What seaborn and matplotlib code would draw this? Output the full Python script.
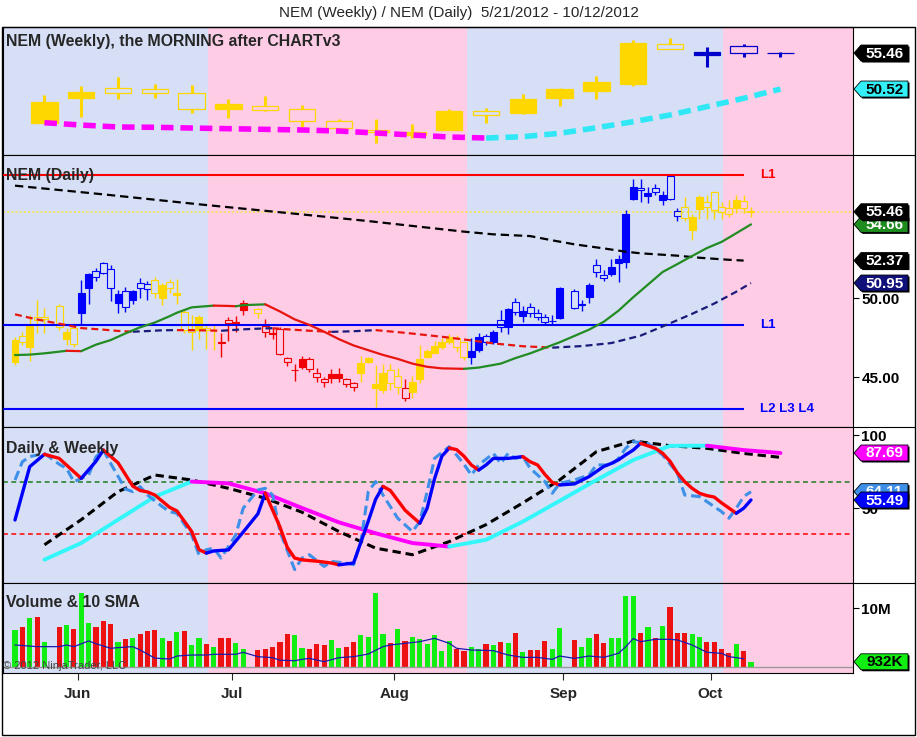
import numpy as np
import pandas as pd
import matplotlib
matplotlib.use("Agg")
import matplotlib.pyplot as plt
from matplotlib.patches import Polygon, Rectangle
import seaborn as sns

# NEM weekly / daily chart, rebuilt from a NinjaTrader screenshot.
# x axis = weekday number counted from 5/21/2012 (holidays stay as empty slots)
START = "2012-05-21"
HOLIDAYS = ["2012-05-28", "2012-07-04", "2012-09-03"]

# ---- weekly bars, stamped on Fridays 5/25 .. 10/12 ----
week_open = [45.90, 49.33, 50.71, 50.48, 49.93, 47.82, 48.19, 47.78, 46.18, 44.90, 44.21,
             44.90, 47.50, 47.19, 49.33, 50.29, 51.21, 56.74, 55.19, 56.42, 55.50]
week_high = [49.70, 50.93, 52.12, 51.21, 51.07, 49.15, 49.61, 48.28, 46.36, 46.36, 45.72,
             47.73, 47.87, 49.79, 50.61, 52.30, 57.24, 57.56, 56.33, 56.65, 55.64]
week_low = [45.90, 46.64, 49.10, 49.24, 47.27, 46.50, 47.55, 45.26, 45.10, 43.16, 43.76,
            44.90, 45.90, 47.09, 48.24, 49.10, 50.98, 55.96, 53.59, 54.96, 54.96]
week_close = [48.78, 50.16, 50.02, 50.02, 47.73, 48.46, 47.64, 46.18, 45.13, 44.67, 44.67,
              47.50, 46.96, 49.15, 50.52, 51.44, 56.88, 55.96, 55.64, 55.51, 55.46]
week_color = "YYYYYYYYYYYYYYYYYYBBB"
week_ma = [45.90, 45.58, 45.31, 45.27, 45.17, 45.08, 44.99, 44.90, 44.76, 44.49, 44.21,
           43.94, 43.80, 43.98, 44.45, 45.21, 46.04, 46.96, 48.10, 49.25, 50.52]
# weekly stochastic (solid) and its signal (black dashed)
week_stoch = [14.6, 26.0, 42.0, 57.8, 68.1, 66.9, 60.1, 50.0, 40.2, 32.7, 26.0,
              23.6, 28.2, 40.7, 54.9, 69.2, 82.9, 92.6, 92.7, 89.7, 87.69]
week_signal = [24.8, 42.0, 61.2, 72.6, 69.2, 63.5, 56.7, 47.1, 33.9, 22.5, 18.0,
               27.0, 38.6, 53.5, 69.2, 88.6, 95.9, 92.7, 90.9, 87.4, 84.7]

# ---- daily bars 5/21 .. 10/8 ----
day_open = [45.97, 47.59, 46.88, 48.82, 48.82, 49.49, 47.39, 48.08, 49.03, 50.61,
            51.69, 52.24, 51.81, 49.70, 50.46, 49.87, 50.93, 50.86, 51.14, 49.98,
            50.99, 50.17, 49.13, 47.97, 47.97, 48.10, 48.00, 47.20, 48.61, 48.35,
            49.24, 49.30, 48.23, 47.78, 48.02, 46.22, 45.46, 45.65, 46.12, 45.23,
            44.87, 44.92, 44.92, 44.85, 44.60, 45.23, 45.97, 44.28, 44.18, 45.44,
            45.06, 44.32, 44.07, 44.85, 46.28, 46.54, 46.92, 47.23, 47.45, 47.23,
            46.25, 46.71, 47.61, 47.23, 48.59, 48.18, 49.77, 48.88, 49.41, 49.03,
            48.78, 48.56, 48.75, 50.46, 49.62, 50.08, 52.09, 51.46, 51.52, 52.24,
            52.30, 56.24, 56.94, 56.48, 56.94, 56.20, 57.70, 55.51, 55.78, 54.30,
            55.63, 56.10, 56.69, 55.78, 55.68, 55.68, 56.14, 55.50]
day_high = [47.53, 47.87, 48.90, 49.87, 49.37, 49.60, 48.10, 48.40, 51.14, 51.60,
            51.90, 52.30, 52.10, 50.50, 50.70, 50.50, 51.25, 51.05, 51.35, 50.95,
            51.20, 51.20, 49.25, 48.90, 48.92, 48.30, 48.30, 47.80, 48.80, 48.86,
            49.87, 49.35, 48.65, 48.10, 48.15, 46.30, 45.82, 46.35, 46.30, 45.60,
            45.00, 45.50, 45.60, 44.97, 44.70, 46.35, 46.30, 45.76, 45.80, 45.80,
            45.60, 44.90, 45.05, 47.00, 46.80, 47.30, 47.50, 47.70, 47.65, 47.30,
            47.50, 47.80, 47.70, 48.00, 49.24, 49.40, 50.00, 49.50, 49.70, 49.30,
            49.00, 48.90, 50.70, 50.55, 49.85, 50.95, 52.50, 51.80, 52.50, 52.70,
            55.60, 57.50, 57.50, 57.00, 57.20, 56.80, 57.80, 55.70, 56.40, 55.30,
            56.55, 56.50, 56.75, 56.10, 56.20, 56.50, 56.50, 55.75]
day_low = [45.76, 47.00, 46.00, 47.80, 47.78, 48.00, 47.00, 46.90, 48.30, 49.60,
           51.10, 51.50, 49.80, 49.07, 49.10, 49.60, 50.00, 49.90, 50.00, 49.55,
           50.30, 49.60, 47.80, 46.70, 47.40, 46.80, 46.70, 46.30, 47.30, 47.87,
           48.92, 48.75, 47.55, 47.40, 46.40, 45.70, 44.77, 45.50, 45.30, 44.70,
           44.40, 44.60, 44.70, 44.40, 44.10, 44.70, 45.90, 43.12, 44.00, 44.20,
           43.90, 43.50, 43.70, 44.60, 46.20, 46.50, 46.80, 47.10, 46.60, 46.10,
           45.80, 46.60, 47.00, 47.10, 47.87, 47.70, 48.90, 48.50, 48.80, 48.60,
           48.30, 48.30, 48.70, 49.30, 49.20, 49.70, 51.30, 51.10, 51.40, 51.00,
           51.90, 56.20, 56.10, 56.00, 56.50, 55.90, 56.20, 54.90, 54.90, 53.70,
           55.00, 55.00, 55.00, 55.00, 55.10, 55.40, 55.40, 55.10]
day_close = [47.34, 47.23, 48.23, 48.61, 48.69, 48.18, 47.87, 47.09, 50.30, 51.52,
             51.31, 51.60, 50.61, 50.25, 49.45, 50.46, 50.65, 50.59, 50.30, 50.82,
             50.61, 50.34, 47.97, 47.87, 48.82, 48.00, 47.95, 47.15, 48.40, 48.46,
             49.66, 49.03, 47.87, 47.74, 46.46, 45.97, 45.42, 46.12, 45.49, 45.02,
             44.66, 45.17, 45.17, 44.54, 44.35, 45.87, 46.18, 44.54, 45.23, 44.60,
             44.39, 43.65, 44.70, 46.12, 46.65, 46.96, 47.23, 47.51, 46.88, 46.28,
             46.62, 47.55, 47.23, 47.87, 48.18, 49.28, 49.13, 49.18, 49.03, 48.82,
             48.46, 48.52, 50.61, 49.39, 49.58, 50.82, 51.63, 51.29, 51.94, 52.47,
             55.32, 57.00, 56.81, 56.62, 56.73, 56.52, 56.25, 55.21, 55.04, 55.15,
             56.41, 55.78, 55.57, 55.46, 55.30, 56.20, 55.72, 55.46]
day_color = ("YYYYYYYYBB" "BBBBBBBBYY" "YYYYYYYRRR" "RYRRRRRRRR" "RRRRRYYYYY"
             "YRYYYYYYYY" "BBBBBBBBBB" "BBBBBBBBBB" "BBBBBBBBYY" "YYYYYYYY")
# volume in millions
day_vol = [6.32, 6.89, 8.30, 8.58, 4.34, 6.89, 7.17, 6.49, 12.54, 7.56,
           6.89, 7.90, 7.39, 4.34, 4.80, 4.97, 5.65, 6.15, 6.32, 4.97,
           4.46, 6.04, 6.15, 3.78, 4.97, 3.95, 3.50, 4.97, 4.97, 4.17,
           3.10, 2.93, 3.10, 3.44, 4.29, 5.65, 5.47, 3.27, 3.10, 3.95,
           3.78, 4.63, 3.27, 3.44, 4.29, 5.47, 5.14, 12.65, 5.65, 4.12,
           6.49, 4.46, 5.14, 4.80, 3.95, 5.47, 2.76, 4.46, 3.10, 2.81,
           3.50, 3.10, 3.95, 3.78, 4.29, 4.12, 5.82, 2.59, 2.93, 2.93,
           4.46, 3.10, 6.60, 4.63, 3.44, 4.97, 5.65, 4.12, 4.97, 4.97,
           12.08, 12.08, 5.82, 6.83, 4.97, 7.00, 10.22, 5.82, 5.82, 5.65,
           5.14, 4.29, 4.29, 3.10, 2.42, 3.95, 2.76, 0.932]
vol_color = ("GRGRGRGRGG" "RRRGRGRRRG" "RGRGGRGRRG" "GRRRRRGGRR" "RGGRRGGGGR"
             "GRGGGGGGRR" "GGRGRGRGRR" "RGGRGGRRGG" "GGRGRGRRRG" "GRRRRGRG")

# indicator lines: (weekday number, value)
green_ma_day = [0, 2, 4, 7, 9, 11, 13, 15, 17, 19, 21, 22, 24, 27, 29, 30, 31, 34, 36, 38,
                40, 42, 44, 46, 48, 50, 52, 54, 56, 58, 60, 61, 63, 66, 68, 70, 72, 74, 76, 78,
                80, 82, 84, 86, 88, 90, 92, 94, 96, 98, 100]
green_ma_val = [46.39, 46.42, 46.50, 46.66, 46.64, 47.05, 47.34, 47.76, 48.15, 48.45,
                48.85, 49.07, 49.41, 49.52, 49.50, 49.48, 49.55, 49.60, 49.15, 48.65,
                48.30, 47.87, 47.40, 47.00, 46.70, 46.40, 46.15, 45.85, 45.65, 45.55,
                45.53, 45.52, 45.60, 45.85, 46.20, 46.50, 46.85, 47.20, 47.60, 48.00,
                48.50, 49.20, 50.05, 50.85, 51.65, 52.15, 52.66, 53.16, 53.55, 54.10, 54.66]
mid_ma_day = [0, 2, 4, 7, 9, 12, 14, 16, 18, 20, 22, 25, 28, 31, 34, 35, 37, 40, 43, 46,
              49, 53, 58, 62, 65, 69, 73, 77, 81, 85, 89, 92, 95, 98, 100]
mid_ma_val = [48.97, 48.75, 48.55, 48.29, 48.10, 48.00, 47.92, 47.87, 47.91, 47.96,
              47.97, 47.96, 47.93, 48.02, 48.08, 48.09, 48.02, 47.93, 47.86, 47.90,
              47.97, 47.80, 47.55, 47.32, 47.13, 46.95, 46.86, 46.96, 47.15, 47.62,
              48.40, 49.00, 49.65, 50.40, 50.95]
long_ma_day = [0, 12, 25, 39, 48, 61, 65, 70, 73, 76, 80, 83, 85, 90, 93, 97, 99]
long_ma_val = [57.11, 56.56, 55.93, 55.29, 54.87, 54.20, 54.03, 53.92, 53.65, 53.40,
               53.14, 52.93, 52.83, 52.68, 52.55, 52.42, 52.37]

stoch_day = [0, 2, 4, 6, 9, 11, 12, 14, 16, 17, 18, 19, 21, 22, 24, 25, 26, 27, 29, 31,
             33, 34, 36, 37, 38, 39, 40, 41, 43, 44, 46, 48, 49, 50, 51, 53, 54, 55, 56, 57,
             58, 59, 60, 61, 62, 63, 64, 65, 67, 69, 70, 71, 72, 73, 74, 76, 77, 78, 79, 80,
             81, 82, 83, 84, 85, 87, 88, 89, 90, 91, 92, 93, 94, 95, 96, 97, 98, 99, 100]
stoch_val = [41.8, 78.3, 86.8, 84.0, 70.3, 82.0, 89.7, 81.0, 65.0, 62.0,
             61.0, 58.9, 50.5, 48.0, 34.0, 21.5, 19.1, 20.6, 21.3, 33.5,
             46.0, 60.2, 37.0, 23.0, 15.7, 14.5, 14.0, 13.6, 12.3, 11.1,
             12.3, 41.0, 56.0, 64.8, 62.0, 48.5, 44.0, 39.6, 49.9, 70.0,
             85.5, 91.1, 90.0, 85.5, 79.5, 76.0, 79.5, 84.0, 84.0, 85.2,
             81.7, 79.5, 73.0, 67.5, 65.8, 66.5, 69.0, 71.5, 75.0, 78.5,
             80.5, 83.0, 86.5, 89.7, 94.3, 90.9, 87.5, 82.0, 74.0, 68.0,
             63.5, 60.1, 58.5, 57.5, 53.5, 50.0, 46.4, 49.8, 55.49]
fast_day = [0, 1, 2, 4, 6, 7, 8, 10, 11, 12, 13, 15, 16, 17, 18, 20, 21, 22, 24, 25,
            26, 27, 28, 30, 31, 33, 34, 35, 36, 38, 39, 40, 42, 43, 45, 46, 47, 48, 49, 50,
            52, 54, 55, 56, 57, 59, 60, 61, 62, 63, 65, 66, 67, 68, 69, 70, 72, 73, 74, 76,
            78, 79, 81, 82, 83, 84, 86, 88, 90, 91, 93, 94, 96, 97, 98, 99, 100]
fast_val = [69.2, 81.7, 85.2, 87.4, 80.0, 77.2, 68.0, 72.6, 85.0, 89.8,
            80.5, 63.0, 61.2, 64.7, 58.9, 51.0, 47.5, 46.4, 31.6, 18.0,
            21.4, 22.5, 15.7, 31.6, 49.8, 62.4, 63.5, 58.9, 33.9, 7.8,
            15.7, 18.0, 10.0, 13.4, 12.3, 11.2, 27.1, 61.2, 68.1, 58.9,
            43.0, 33.9, 40.7, 61.2, 84.0, 92.0, 86.3, 80.0, 72.6, 79.5,
            87.4, 80.6, 87.4, 84.0, 85.2, 77.2, 68.1, 60.1, 66.9, 69.2,
            72.6, 79.5, 79.5, 84.0, 91.0, 95.4, 94.3, 86.3, 74.0, 58.9,
            57.8, 54.4, 47.5, 43.0, 49.8, 57.8, 61.2]
stoch_upper, stoch_lower = 68, 32

vol_sma_day = [0, 3, 6, 7, 8, 10, 11, 13, 14, 16, 17, 19, 21, 22, 24, 26, 27, 30, 31, 33,
               35, 36, 38, 39, 40, 42, 44, 46, 48, 50, 51, 53, 55, 57, 59, 60, 62, 65, 67, 69,
               71, 73, 74, 76, 78, 80, 82, 83, 84, 85, 87, 89, 90, 92, 94, 96, 97, 99]
vol_sma_val = [3.78, 3.50, 3.50, 3.78, 3.50, 4.46, 4.00, 3.22, 3.33, 3.50,
               2.93, 1.55, 1.40, 1.91, 2.08, 2.08, 2.20, 2.20, 2.54, 1.80,
               1.63, 1.20, 1.12, 1.34, 1.51, 0.95, 1.63, 1.80, 2.25, 3.50,
               3.78, 4.06, 4.34, 4.91, 4.06, 3.22, 2.93, 2.82, 2.08, 1.68,
               1.68, 1.34, 1.91, 1.51, 1.91, 1.68, 2.37, 3.50, 4.86, 4.34,
               4.74, 4.74, 4.63, 3.78, 2.54, 2.37, 1.80, 1.46]

levels = [57.78, 48.29, 42.97]
level_names = ["L1", "L1", "L2 L3 L4"]
level_colors = ["#FF0000", "#0000FF", "#0000FF"]
band_edges = [26.2, 61.4, 96.2]   # background colour changes (weekday numbers)
month_names = ["Jun", "Jul", "Aug", "Sep", "Oct"]
month_starts = ["2012-06-01", "2012-07-01", "2012-08-01", "2012-09-01", "2012-10-01"]

# ------------------------------------------------------------------
sns.set_style("white")
plt.rcParams["font.family"] = ["Liberation Sans", "DejaVu Sans"]
plt.rcParams["lines.scale_dashes"] = False

BLUE_BG, PINK_BG = "#D6DFF5", "#FFCCE6"
GOLD, DBLUE, WBLUE, RED = "#FFD700", "#0000FF", "#0000CC", "#F00000"

start = np.datetime64(START)
day_dates = pd.bdate_range(START, "2012-10-08").drop(pd.to_datetime(HOLIDAYS))
day_x = np.busday_count(start, day_dates.values.astype("datetime64[D]"))
week_dates = pd.date_range("2012-05-25", "2012-10-12", freq="W-FRI")
week_x = np.busday_count(start, week_dates.values.astype("datetime64[D]"))
month_pos = np.busday_count(start, np.busday_offset(month_starts, 0, roll="forward")) - 0.5

W, H = 917, 737
fig = plt.figure(figsize=(W / 100, H / 100), dpi=100)
fig.patch.set_facecolor("white")


def px_axes(top, bottom):
    return fig.add_axes([3 / W, 1 - bottom / H, 850 / W, (bottom - top) / H])


ax_w = px_axes(27, 155)
ax_d = px_axes(155, 427)
ax_s = px_axes(427, 583)
ax_v = px_axes(583, 673)
XL = (-1.63, 113.86)

for ax in (ax_w, ax_d, ax_s, ax_v):
    edges = [-10] + band_edges + [130]
    for i in range(len(edges) - 1):
        ax.axvspan(edges[i], edges[i + 1], color=BLUE_BG if i % 2 == 0 else PINK_BG,
                   lw=0, zorder=0)
    for sp in ax.spines.values():
        sp.set_color("black")
        sp.set_linewidth(0.8)


def trend_line(ax, xs, ys, up_color, down_color, **kw):
    # split the polyline into rising / falling runs and colour each run
    xs, ys = list(xs), list(ys)
    s = 0
    for i in range(1, len(xs)):
        up = ys[i] >= ys[i - 1]
        last = i == len(xs) - 1
        if last or (ys[i + 1] >= ys[i]) != up:
            sns.lineplot(x=xs[s:i + 1], y=ys[s:i + 1], ax=ax,
                         color=up_color if up else down_color,
                         estimator=None, sort=False, legend=False, **kw)
            s = i


def candles(ax, x, o, h, l, c, codes, palette, width, wick_lw, edge_lw):
    o, h, l, c = map(np.asarray, (o, h, l, c))
    cols = [palette[k] for k in codes]
    top, bot = np.maximum(o, c), np.minimum(o, c)
    ax.vlines(x, top, h, colors=cols, lw=wick_lw, zorder=2)
    ax.vlines(x, l, bot, colors=cols, lw=wick_lw, zorder=2)
    fc = [col if cl > op else "none" for col, cl, op in zip(cols, c, o)]
    ax.bar(x, np.maximum(top - bot, 0.04), width=width, bottom=bot, color=fc,
           edgecolor=cols, linewidth=edge_lw, zorder=2.1)


# ---- weekly panel ----
candles(ax_w, week_x, week_open, week_high, week_low, week_close, week_color,
        {"Y": GOLD, "B": WBLUE}, 3.6, 2.2, 0.9)
trend_line(ax_w, week_x, week_ma, "#30E8F5", "#FF00FF", linewidth=4.0,
           linestyle=(0, (9, 5)), zorder=3)
ax_w.set_ylim(41.47, 59.03)
ax_w.text(0.003, 0.885, "NEM (Weekly), the MORNING after CHARTv3", transform=ax_w.transAxes,
          fontsize=11.4, fontweight="bold", va="center")

# ---- daily panel ----
candles(ax_d, day_x, day_open, day_high, day_low, day_close, day_color,
        {"Y": GOLD, "B": DBLUE, "R": RED}, 0.95, 1.0, 0.8)
ax_d.axhline(day_close[-1], color="#F5E35A", lw=1.3, ls=(0, (1.5, 1.5)), zorder=1.5)
for lv, nm, col in zip(levels, level_names, level_colors):
    ax_d.hlines(lv, XL[0], 99, color=col, lw=1.5, zorder=3)
    ax_d.text(101.2, lv, nm, color=col, fontsize=9.5, fontweight="bold", va="center")
sns.lineplot(x=long_ma_day, y=long_ma_val, ax=ax_d, color="black", linewidth=1.6,
             linestyle=(0, (6, 3.5)), estimator=None, sort=False, legend=False, zorder=3)
trend_line(ax_d, mid_ma_day, mid_ma_val, "#1A1A7A", "#E8140E", linewidth=1.6,
           linestyle=(0, (5, 3)), zorder=3)
trend_line(ax_d, green_ma_day, green_ma_val, "#228B22", "#E8140E", linewidth=1.6, zorder=3)
ax_d.set_ylim(41.84, 59.05)
ax_d.text(0.003, 0.926, "NEM (Daily)", transform=ax_d.transAxes, fontsize=11.4,
          fontweight="bold", va="center", zorder=5)

# ---- stochastics panel ----
ax_s.axhline(stoch_upper, color="#1E7B1E", lw=1.1, ls=(0, (3.5, 2.5)), zorder=1.5)
ax_s.axhline(stoch_lower, color="#FF0000", lw=1.1, ls=(0, (3.5, 2.5)), zorder=1.5)
sns.lineplot(x=week_x, y=week_signal, ax=ax_s, color="black", linewidth=2.2,
             linestyle=(0, (6, 3.5)), estimator=None, sort=False, legend=False, zorder=3)
trend_line(ax_s, week_x, week_stoch, "#33F6FA", "#FF00FF", linewidth=2.8, zorder=3)
sns.lineplot(x=fast_day, y=fast_val, ax=ax_s, color="#3D8FE8", linewidth=2.2,
             linestyle=(0, (7, 3.5)), estimator=None, sort=False, legend=False, zorder=3.2)
trend_line(ax_s, stoch_day, stoch_val, "#0000FF", "#FF0000", linewidth=2.4, zorder=3.4)
ax_s.set_ylim(-1.37, 105.5)
ax_s.text(0.003, 0.865, "Daily & Weekly", transform=ax_s.transAxes, fontsize=11.4,
          fontweight="bold", va="center", zorder=5)

# ---- volume panel ----
ax_v.bar(day_x, day_vol, width=0.7, color=["#11EE11" if k == "G" else "#EE1111" for k in vol_color],
         linewidth=0, zorder=2)
ax_v.axhline(0, color="#9A9A9A", lw=1, zorder=2.5)
sns.lineplot(x=vol_sma_day, y=vol_sma_val, ax=ax_v, color="#1A1AB0", linewidth=0.9,
             estimator=None, sort=False, legend=False, zorder=3)
ax_v.set_ylim(-0.97, 14.29)
ax_v.text(0.003, 0.778, "Volume & 10 SMA", transform=ax_v.transAxes, fontsize=11.4,
          fontweight="bold", va="center", zorder=5)
ax_v.text(0.0, 0.075, "\u00a9 2012 NinjaTrader, LLC", transform=ax_v.transAxes, fontsize=8,
          color="#444444", va="center", zorder=5)

# ---- axes, ticks ----
for ax in (ax_w, ax_d, ax_s, ax_v):
    ax.set_xlim(*XL)
    ax.set_xlabel("")
    ax.set_ylabel("")
    ax.yaxis.tick_right()
    ax.tick_params(axis="y", direction="out", length=4, width=0.8, pad=2, colors="black")
    ax.tick_params(axis="x", bottom=False, labelbottom=False)
ax_w.set_yticks([])
ax_d.set_yticks([45, 50], labels=["45.00", "50.00"], fontsize=11, fontweight="bold")
ax_s.set_yticks([50, 100], labels=["50", "100"], fontsize=11, fontweight="bold")
ax_v.set_yticks([10], labels=["10M"], fontsize=11, fontweight="bold")
ax_v.set_xticks(month_pos, labels=month_names, fontsize=11, fontweight="bold")
ax_v.tick_params(axis="x", bottom=True, labelbottom=True, direction="out", length=5,
                 width=0.8, pad=5)

fig.text(0.5, 1 - 13 / H, "NEM (Weekly) / NEM (Daily)  5/21/2012 - 10/12/2012",
         ha="center", va="center", fontsize=11)

# ---- overlay in pixel units: frame and right-hand value tags ----
ov = fig.add_axes([0, 0, 1, 1], zorder=20)
ov.set_xlim(0, W)
ov.set_ylim(H, 0)
ov.axis("off")
ov.patch.set_alpha(0)
ov.add_patch(Rectangle((1.5, 27), 913, 708, fill=False, ec="black", lw=1))
ov.hlines([155, 427, 583], 853, 914.5, color="black", lw=0.8)

n_tag = [0]


def tag(ax, value, text, fc, tc):
    yc = H - ax.transData.transform((0, value))[1]
    pts = [(854, yc), (861, yc - 8), (908, yc - 8), (908, yc + 8), (861, yc + 8)]
    z = 30 + 3 * n_tag[0]
    n_tag[0] += 1
    ov.add_patch(Polygon([(x + 1.5, y + 1.5) for x, y in pts], closed=True, fc="black",
                         ec="none", zorder=z))
    ov.add_patch(Polygon(pts, closed=True, fc=fc, ec="black", lw=0.6, zorder=z + 1))
    ov.text(884.5, yc + 0.5, text, ha="center", va="center", fontsize=11,
            fontweight="bold", color=tc, zorder=z + 2)


tag(ax_w, week_close[-1], "55.46", "black", "white")
tag(ax_w, week_ma[-1], "50.52", "#33F0F8", "black")
tag(ax_d, green_ma_val[-1], "54.66", "#1E8C1E", "white")
tag(ax_d, day_close[-1], "55.46", "black", "white")
tag(ax_d, long_ma_val[-1], "52.37", "black", "white")
tag(ax_d, mid_ma_val[-1], "50.95", "#10107A", "white")
tag(ax_s, week_stoch[-1], "87.69", "#FF00FF", "white")
tag(ax_s, fast_val[-1], "64.11", "#3D8FE8", "white")
tag(ax_s, stoch_val[-1], "55.49", "#0000FF", "white")
tag(ax_v, day_vol[-1], "932K", "#11EE11", "black")

fig.savefig("out.png", dpi=100, facecolor="white")
